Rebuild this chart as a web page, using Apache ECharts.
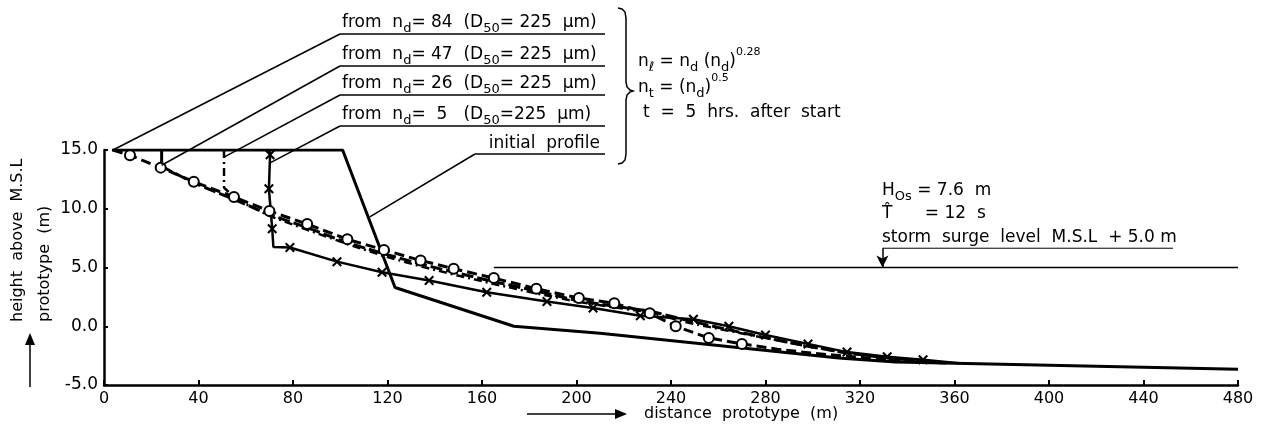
<!DOCTYPE html>
<html><head><meta charset="utf-8">
<script src="https://cdn.jsdelivr.net/npm/echarts@6/dist/echarts.min.js"></script>
<style>html,body{margin:0;padding:0;background:#fff}#c{width:1268px;height:441px}</style>
</head><body><div id="c"></div>
<script>
// ---------- data ----------
const xTickValues = [0,40,80,120,160,200,240,280,320,360,400,440,480];
const xTickLabels = ['0','40','80','120','160','200','240','280','320','360','400','440','480'];
const yTickValues = [-5,0,5,10,15];
const yTickLabels = ['-5.0','0.0','5.0','10.0','15.0'];

const initialX = [3.4, 101, 123.2, 173.5, 210, 311, 335, 480];
const initialY = [15, 15, 3.3, 0.0, -0.6, -2.7, -3.05, -3.66];

const nd84X = [3.8, 11, 24, 38, 55, 70, 86, 103, 118.5, 134, 148, 165, 183, 201, 216, 231, 242, 256, 270, 285, 300, 320, 340, 358];
const nd84Y = [15, 14.55, 13.5, 12.3, 11.0, 9.8, 8.7, 7.4, 6.5, 5.6, 4.9, 4.1, 3.2, 2.4, 1.95, 1.1, 0.0, -1.0, -1.5, -1.95, -2.3, -2.65, -2.95, -3.15];

const nd47X = [24.4, 24.4, 38, 55, 70, 86, 103, 118, 134, 148, 165, 183, 200, 216, 231, 245, 260, 278, 298, 315, 332, 350];
const nd47Y = [15, 13.6, 12.2, 10.8, 9.5, 8.4, 7.1, 6.2, 5.3, 4.6, 3.8, 3.0, 2.2, 1.7, 1.3, 0.6, -0.1, -0.9, -1.7, -2.3, -2.7, -3.0];

const nd26X = [50.8, 50.8, 56, 70, 86, 103, 118, 134, 148, 165, 183, 200, 216, 231, 245, 262, 280, 298, 315, 332, 350];
const nd26Y = [15, 11.8, 10.8, 9.4, 8.2, 7.0, 6.0, 5.1, 4.4, 3.6, 2.8, 2.1, 1.6, 1.2, 0.4, -0.3, -1.0, -1.7, -2.3, -2.7, -3.0];

const nd5X = [70, 70.3, 69.8, 71.2, 71.7, 78.7, 98.6, 117.7, 137.6, 162, 187.5, 207, 227, 249.5, 264.5, 280, 298, 314.5, 331.5, 346.7, 362];
const nd5Y = [15, 14.6, 11.7, 8.3, 6.75, 6.7, 5.5, 4.6, 3.9, 2.9, 2.1, 1.55, 0.9, 0.6, 0.0, -0.75, -1.5, -2.2, -2.6, -2.85, -3.15];
const nd5Plain = [0, 4, 20];          // points of the nd=5 profile drawn without a cross

const surgeX = [165, 480];
const surgeY = [5.0, 5.0];
const surgeArrowX = 329.5, surgeArrowTopY = 6.64;

// leader-line targets (data coords)
const leader84 = [3.8, 15], leader47 = [24.4, 13.7], leader26 = [50.8, 14.4], leader5 = [70.3, 13.9], leaderInit = [112.5, 9.3];

// ---------- chart ----------
const F = 'DejaVu Sans';
const pairs = (xs, ys) => xs.map((x, i) => [x, ys[i]]);
const crossPath = 'path://M0,1.5L1.5,0L5,3.5L8.5,0L10,1.5L6.5,5L10,8.5L8.5,10L5,6.5L1.5,10L0,8.5L3.5,5Z';

const chart = echarts.init(document.getElementById('c'));

const nd84Data = pairs(nd84X, nd84Y).map(p => ({value: p, symbol: (p[0] > 5 && p[0] < 275) ? 'circle' : 'none'}));
const nd5Data = pairs(nd5X, nd5Y).map((p, i) => ({value: p, symbol: nd5Plain.includes(i) ? 'none' : crossPath}));

chart.setOption({
  animation: false,
  backgroundColor: '#fff',
  grid: {left: 104, right: 30, top: 150, bottom: 56},
  xAxis: {
    type: 'value', min: 0, max: 480, interval: 40,
    axisLine: {onZero: false, lineStyle: {color: '#000', width: 2.5}},
    axisTick: {inside: true, length: 5, lineStyle: {color: '#000', width: 2}},
    axisLabel: {color: '#000', fontSize: 16, fontFamily: F, margin: 6,
      formatter: v => xTickLabels[xTickValues.indexOf(v)] ?? ''},
    splitLine: {show: false}
  },
  yAxis: {
    type: 'value', min: -5, max: 15, interval: 5,
    axisLine: {show: true, onZero: false, lineStyle: {color: '#000', width: 2.5}},
    axisTick: {show: true, inside: true, length: 4, lineStyle: {color: '#000', width: 2}},
    axisLabel: {color: '#000', fontSize: 17, fontFamily: F, margin: 6,
      formatter: v => yTickLabels[yTickValues.indexOf(v)] ?? ''},
    splitLine: {show: false}
  },
  series: [
    {name: 'initial profile', type: 'line', data: pairs(initialX, initialY), symbol: 'none', z: 2,
     lineStyle: {color: '#000', width: 3}},
    {name: 'nd=47', type: 'line', data: pairs(nd47X, nd47Y), symbol: 'none', z: 3,
     lineStyle: {color: '#000', width: 3, type: [12, 4]}},
    {name: 'nd=26', type: 'line', data: pairs(nd26X, nd26Y), symbol: 'none', z: 3,
     lineStyle: {color: '#000', width: 2.5, type: [8, 4, 2, 4]}},
    {name: 'nd=5', type: 'line', data: nd5Data, symbolSize: 10, showAllSymbol: true, z: 4,
     itemStyle: {color: '#000'}, lineStyle: {color: '#000', width: 2.5}},
    {name: 'nd=84', type: 'line', data: nd84Data, symbolSize: 10, showAllSymbol: true, z: 5,
     itemStyle: {color: '#fff', borderColor: '#000', borderWidth: 2},
     lineStyle: {color: '#000', width: 3, type: [10, 5]}},
    {name: 'surge', type: 'line', data: pairs(surgeX, surgeY), symbol: 'none', z: 2,
     lineStyle: {color: '#000', width: 1.5},
     markLine: {silent: true, symbol: ['none', 'arrow'], symbolSize: [9, 12], label: {show: false},
       lineStyle: {color: '#000', width: 1.5, type: 'solid'},
       data: [[{coord: [surgeArrowX, surgeArrowTopY]}, {coord: [surgeArrowX, 5.0]}]]}}
  ]
});

// ---------- annotations ----------
const rich = {
  m: {fontSize: 17, fontFamily: F, lineHeight: 17, padding: [6, 0, 4, 0], verticalAlign: 'top', color: '#000'},
  s: {fontSize: 13, fontFamily: F, lineHeight: 13, padding: [14, 0, 0, 0], verticalAlign: 'top', color: '#000'},
  p: {fontSize: 11, fontFamily: F, lineHeight: 11, padding: [0, 0, 0, 0], verticalAlign: 'top', color: '#000'}
};
const px = p => chart.convertToPixel({gridIndex: 0}, p);
const txt = (x, y, text, align) => ({type: 'text', x, y, z: 10,
  style: {text, rich, fill: '#000', align: align || 'left', verticalAlign: 'bottom'}});
const ln = (x1, y1, x2, y2, w) => ({type: 'line', z: 10, shape: {x1, y1, x2, y2}, style: {stroke: '#000', lineWidth: w || 1.5}});

const ulL = 340, ulR = 605;
const ul = [34, 66, 95, 126];
const g = [];
const labels = [
  '{m|from  n}{s|d}{m|= 84  (D}{s|50}{m|= 225  µm)}',
  '{m|from  n}{s|d}{m|= 47  (D}{s|50}{m|= 225  µm)}',
  '{m|from  n}{s|d}{m|= 26  (D}{s|50}{m|= 225  µm)}',
  '{m|from  n}{s|d}{m|=  5   (D}{s|50}{m|=225  µm)}'
];
const targets = [leader84, leader47, leader26, leader5];
labels.forEach((t, i) => {
  g.push(txt(342, ul[i] - 9, t));
  g.push(ln(ulL, ul[i], ulR, ul[i]));
  const p = px(targets[i]);
  g.push(ln(ulL, ul[i], p[0], p[1]));
});
g.push(txt(600, 146, '{m|initial  profile}', 'right'));
g.push(ln(475, 154, ulR, 154));
const pi = px(leaderInit);
g.push(ln(475, 154, pi[0], pi[1]));

// bracket
g.push({type: 'polyline', z: 10,
  shape: {points: [[618,8],[622,9],[625,12],[626,18],[626,82],[627,87],[630,90],[633,91],[630,92],[627,95],[626,100],[626,154],[625,160],[622,163],[618,164]]},
  style: {stroke: '#000', lineWidth: 1.5, fill: null}});

g.push(txt(638, 64, '{m|n}{s|ℓ}{m| = n}{s|d}{m| (n}{s|d}{m|)}{p|0.28}'));
g.push(txt(638, 90, '{m|n}{s|t}{m| = (n}{s|d}{m|)}{p|0.5}'));
g.push(txt(643, 115, '{m|t  =  5  hrs.  after  start}'));

g.push(txt(882, 193, '{m|H}{s|Os}{m| = 7.6  m}'));
g.push(txt(882, 216, '{m|T̂      = 12  s}'));
g.push(txt(882, 240, '{m|storm  surge  level  M.S.L  + 5.0 m}'));
const pa = px([surgeArrowX, surgeArrowTopY]);
g.push(ln(pa[0], pa[1], 1173, pa[1], 1));

// axis titles
g.push({type: 'text', x: 18, y: 322, rotation: Math.PI / 2, z: 10,
  style: {text: 'height  above  M.S.L', fill: '#000', font: '16px ' + F, align: 'left', verticalAlign: 'middle'}});
g.push({type: 'text', x: 45, y: 322, rotation: Math.PI / 2, z: 10,
  style: {text: 'prototype  (m)', fill: '#000', font: '16px ' + F, align: 'left', verticalAlign: 'middle'}});
g.push(ln(30, 387, 30, 340, 1.5));
g.push({type: 'polygon', z: 10, shape: {points: [[30, 333], [25, 345], [35, 345]]}, style: {fill: '#000'}});

g.push({type: 'text', x: 644, y: 414, z: 10,
  style: {text: 'distance  prototype  (m)', fill: '#000', font: '16px ' + F, align: 'left', verticalAlign: 'middle'}});
g.push(ln(527, 414, 618, 414, 1.5));
g.push({type: 'polygon', z: 10, shape: {points: [[627, 414], [615, 409], [615, 419]]}, style: {fill: '#000'}});

chart.setOption({graphic: g});
</script></body></html>
